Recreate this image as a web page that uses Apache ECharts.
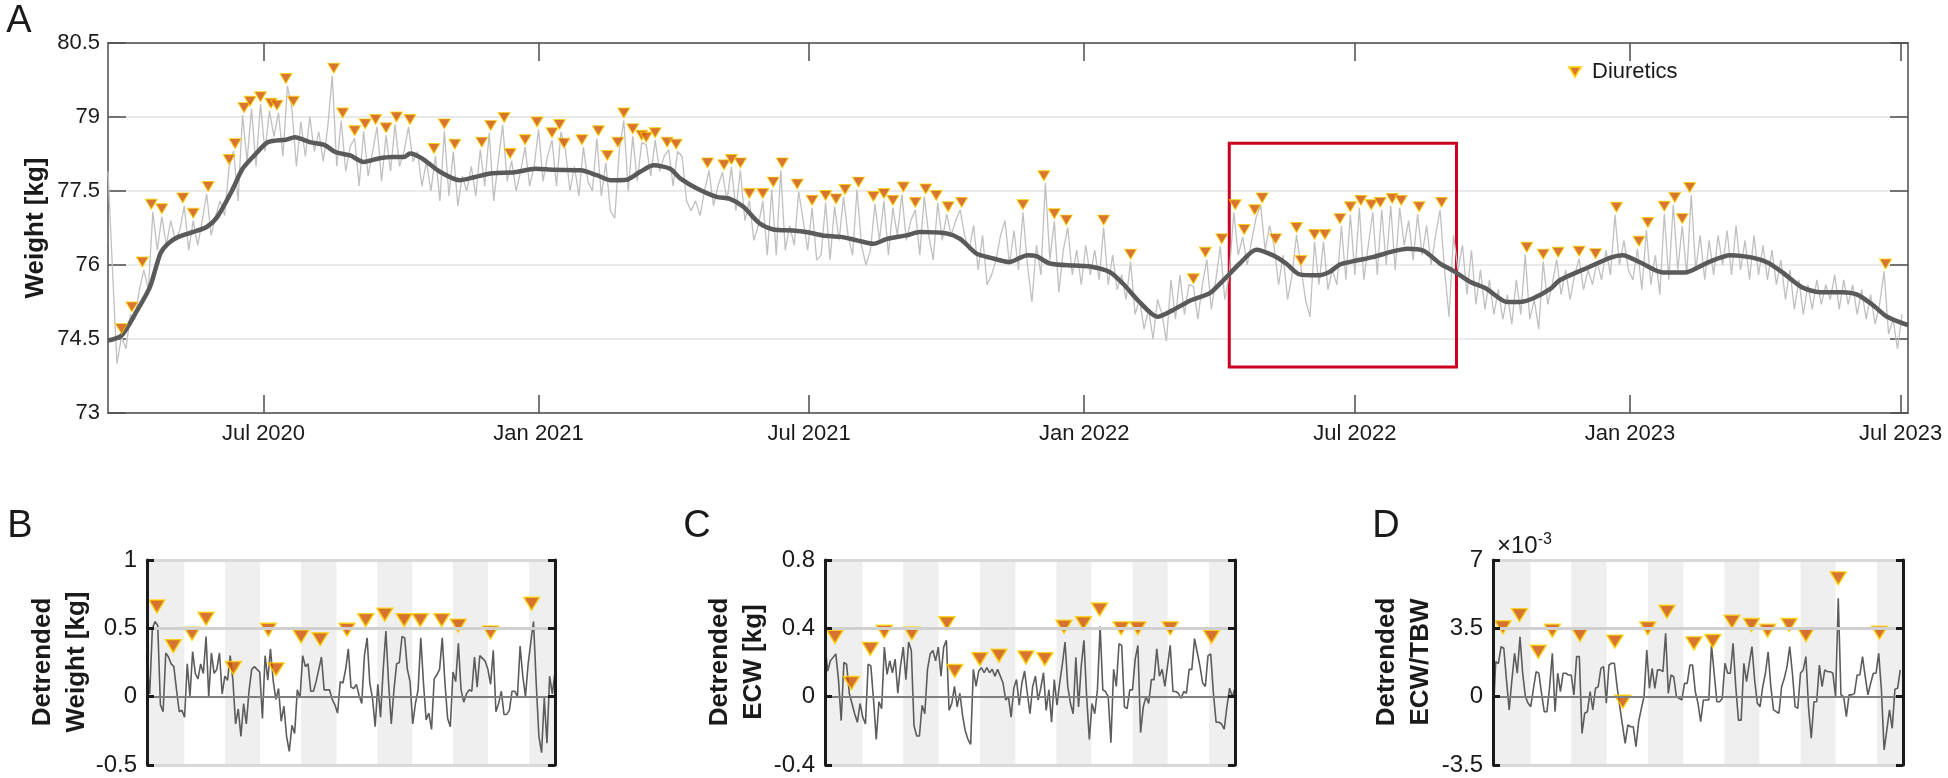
<!DOCTYPE html>
<html>
<head>
<meta charset="utf-8">
<script src="https://cdn.jsdelivr.net/npm/echarts@6.0.0/dist/echarts.min.js"></script>
<style>
html, body { margin: 0; padding: 0; background: #fff; }
#chart { width: 1948px; height: 778px; }
</style>
</head>
<body>
<div id="chart"></div>
<script>
var FONT = '"Liberation Sans", Arial, sans-serif';
var DAY = 86400000;

// panel A: daily weight, one reading every 3 days from the start date
var rawStart = '2020-03-19';
var rawStep = 3;
var rawKg = [
  77.9, 75.9, 74.0, 74.55, 74.3, 75.0, 74.9, 75.5, 75.9, 75.5,
  77.08, 76.3, 76.98, 76.4, 76.9, 76.5, 76.7, 77.2, 76.3, 76.9,
  76.4, 76.9, 77.44, 76.6, 77.0, 77.3, 77.0, 77.99, 78.31, 77.3,
  79.04, 78.1, 79.17, 78.0, 79.26, 78.3, 79.13, 78.6, 79.09, 78.2,
  79.63, 79.17, 78.0, 78.9, 78.2, 79.0, 78.3, 78.7, 78.1, 78.8,
  79.84, 78.0, 78.93, 77.9, 78.4, 78.57, 77.6, 78.71, 77.8, 78.3,
  78.8, 77.7, 78.63, 77.9, 78.85, 78.0, 78.3, 78.8, 78.1, 78.3,
  77.6, 78.1, 77.5, 78.21, 77.3, 78.71, 77.4, 78.3, 77.2, 77.8,
  77.5, 78.0, 77.4, 78.34, 77.6, 78.68, 77.3, 78.1, 78.84, 77.7,
  78.11, 77.5, 77.9, 78.39, 77.6, 78.0, 78.75, 77.7, 78.2, 78.53,
  77.6, 78.7, 78.32, 77.5, 78.0, 77.4, 78.39, 77.7, 77.5, 78.57,
  77.4, 78.07, 77.1, 76.95, 78.34, 78.93, 77.5, 78.61, 77.7, 78.48,
  78.44, 77.8, 78.53, 77.9, 78.2, 78.34, 77.6, 78.3, 78.2, 77.3,
  77.1, 77.3, 77.0, 77.5, 77.92, 77.2, 77.6, 77.88, 77.3, 77.99,
  77.1, 77.92, 76.9, 77.3, 76.5, 76.8, 77.3, 76.2, 77.53, 76.2,
  77.92, 76.3, 76.8, 76.4, 77.49, 76.9, 76.3, 77.16, 76.1, 76.2,
  77.26, 76.1, 77.19, 76.5, 77.38, 76.6, 76.2, 77.53, 76.4, 76.0,
  76.3, 77.24, 76.5, 77.3, 76.2, 77.16, 76.6, 77.43, 76.5, 76.9,
  77.12, 76.2, 77.39, 76.6, 76.1, 77.26, 76.5, 77.03, 76.6, 76.9,
  77.12, 76.6, 76.3, 76.8, 75.9, 76.6, 75.6, 75.8, 76.1, 76.6,
  76.9, 76.0, 76.7, 75.9, 77.07, 76.0, 75.25, 76.4, 75.8, 77.66,
  76.1, 76.89, 75.45, 76.3, 76.76, 75.8, 76.3, 75.6, 76.4, 75.8,
  76.3, 75.7, 76.76, 75.6, 76.2, 75.5, 75.8, 75.3, 76.07, 75.0,
  75.3, 74.7, 75.1, 74.5, 75.3, 75.0, 74.45, 75.7, 74.9, 75.8,
  75.0, 75.6, 75.57, 74.9, 75.6, 76.11, 75.1, 75.7, 76.38, 75.3,
  75.8, 77.07, 76.2, 76.57, 76.0, 76.5, 76.97, 77.21, 76.3, 76.8,
  76.38, 75.6, 76.2, 75.3, 75.8, 76.61, 75.94, 75.3, 74.95, 76.47,
  75.6, 76.47, 75.5, 75.9, 75.6, 76.79, 75.7, 77.03, 75.8, 77.16,
  75.7, 76.4, 77.07, 75.8, 77.12, 76.0, 77.2, 75.9, 77.16, 76.4,
  76.9, 76.1, 77.03, 76.2, 76.8, 76.0, 76.6, 77.12, 75.9, 74.95,
  76.6, 75.9, 76.4, 75.4, 76.3, 75.2, 75.9, 75.1, 75.7, 75.0,
  75.5, 74.9, 75.4, 74.8, 75.7, 75.0, 76.21, 74.9, 75.3, 74.7,
  76.07, 75.2, 75.6, 76.11, 75.4, 75.9, 75.3, 75.8, 76.13, 75.5,
  75.9, 75.6, 76.08, 75.7, 76.3, 75.8, 77.02, 76.0, 76.5, 75.9,
  75.7, 76.33, 75.5, 76.71, 75.6, 76.2, 75.4, 77.04, 75.7, 77.22,
  75.9, 76.79, 75.8, 77.42, 75.9, 76.6, 75.7, 76.5, 75.8, 76.6,
  76.0, 76.7, 75.8, 76.8, 75.9, 76.5, 75.7, 76.6, 75.8, 76.4,
  75.7, 76.3, 75.6, 76.1, 75.3, 75.9, 75.1, 75.7, 75.0, 75.6,
  75.1, 75.7, 75.2, 75.6, 75.3, 75.8, 75.1, 75.7, 75.2, 75.6,
  75.0, 75.5, 74.9, 75.4, 74.8, 75.2, 75.87, 74.6, 74.9, 74.3, 75.0
];

// smoothed trend, days after the start date
var trendDay = [0, 9, 18, 28, 35, 40, 47, 57, 66, 73, 83, 90, 100, 107, 119, 125, 135, 145, 152, 162,
  171, 181, 190, 198, 202, 210, 222, 235, 245, 257, 272, 286, 298, 316, 327, 336, 347, 356, 365, 376,
  383, 394, 407, 416, 425, 436, 445, 458, 467, 478, 490, 501, 512, 521, 534, 543, 561, 570, 581, 590,
  603, 615, 621, 630, 646, 657, 670, 679, 690, 702, 712, 724, 737, 746, 757, 768, 779, 788, 797, 809,
  817, 824, 835, 846, 860, 869, 880, 891, 900, 911, 922, 936, 944, 953, 965, 971, 990, 1005, 1013, 1025,
  1040, 1055, 1070, 1085, 1100, 1110, 1120, 1133, 1145, 1160, 1170, 1180, 1190, 1204];
var trendKg = [74.47, 74.57, 75.0, 75.55, 76.23, 76.43, 76.57, 76.67, 76.77, 76.97, 77.51, 77.95, 78.29, 78.49, 78.54, 78.59, 78.49, 78.43, 78.29, 78.22,
  78.09, 78.16, 78.19, 78.19, 78.26, 78.16, 77.89, 77.72, 77.78, 77.86, 77.88, 77.95, 77.93, 77.92, 77.82, 77.72, 77.73, 77.89, 78.02, 77.95,
  77.75, 77.55, 77.38, 77.34, 77.18, 76.84, 76.72, 76.70, 76.67, 76.60, 76.57, 76.50, 76.43, 76.53, 76.60, 76.67, 76.64, 76.53, 76.23, 76.15,
  76.06, 76.20, 76.18, 76.03, 75.99, 75.97, 75.86, 75.62, 75.25, 74.95, 75.08, 75.28, 75.43, 75.69, 76.03, 76.31, 76.20, 76.03, 75.81, 75.79,
  75.86, 76.01, 76.09, 76.16, 76.28, 76.33, 76.29, 76.03, 75.88, 75.66, 75.52, 75.25, 75.25, 75.32, 75.52, 75.69, 75.95, 76.15, 76.2, 76.05,
  75.85, 75.85, 76.05, 76.2, 76.15, 76.05, 75.85, 75.55, 75.45, 75.45, 75.4, 75.2, 74.95, 74.78];

// diuretic days (days after start) and marker heights
var diuDay = [9, 16, 23, 29, 36, 50, 57, 67, 81, 85, 91, 95, 102, 109, 113, 119, 124, 151, 157, 165,
  172, 179, 186, 193, 202, 218, 225, 232, 250, 256, 265, 269, 279, 287, 297, 302, 305, 317, 328, 334,
  341, 345, 351, 357, 360, 366, 374, 380, 401, 412, 417, 423, 429, 438, 445, 451, 461, 471, 480, 487,
  493, 502, 512, 519, 525, 532, 540, 547, 554, 562, 571, 612, 626, 633, 641, 666, 684, 726, 734, 745,
  754, 760, 767, 772, 781, 795, 798, 807, 814, 824, 831, 838, 845, 851, 859, 865, 877, 892, 949, 960,
  970, 984, 995, 1009, 1024, 1030, 1041, 1048, 1053, 1058, 1189];
var diuKg = [74.71, 75.15, 76.06, 77.23, 77.14, 77.36, 77.05, 77.59, 78.14, 78.46, 79.19, 79.32, 79.41, 79.28, 79.24, 79.78, 79.32, 79.99, 79.08, 78.72,
  78.86, 78.95, 78.78, 79.0, 78.95, 78.36, 78.86, 78.45, 78.49, 78.83, 78.99, 78.26, 78.54, 78.90, 78.68, 78.85, 78.47, 78.54, 78.72, 78.22,
  78.49, 79.08, 78.76, 78.63, 78.59, 78.68, 78.49, 78.45, 78.07, 78.03, 78.14, 78.07, 77.45, 77.45, 77.68, 78.07, 77.64, 77.31, 77.41, 77.34,
  77.53, 77.68, 77.39, 77.45, 77.31, 77.58, 77.27, 77.54, 77.41, 77.18, 77.27, 77.22, 77.81, 77.04, 76.91, 76.91, 76.22, 75.72, 76.26, 76.53,
  77.22, 76.72, 77.12, 77.36, 76.53, 76.76, 76.09, 76.62, 76.62, 76.94, 77.18, 77.31, 77.22, 77.27, 77.35, 77.31, 77.18, 77.27, 76.36, 76.22,
  76.26, 76.28, 76.23, 77.17, 76.48, 76.86, 77.19, 77.37, 76.94, 77.57, 76.02];

var axisEndDay = 1204;
var tickDates = ['2020-07-01', '2021-01-01', '2021-07-01', '2022-01-01', '2022-07-01', '2023-01-01', '2023-07-01'];
var tickLabels = ['Jul 2020', 'Jan 2021', 'Jul 2021', 'Jan 2022', 'Jul 2022', 'Jan 2023', 'Jul 2023'];
var weightTicks = [73, 74.5, 76, 77.5, 79, 80.5];

// zoomed window (red box)
var boxDates = ['2022-04-08', '2022-09-07'];
var boxKg = [73.93, 78.47];

// panels B-D: detrended daily values across the window
var bDetr = [0.24, 0.02, 0.5, 0.55, 0.52, -0.06, -0.11, 0.32, 0.29, 0.24,
  0.22, 0.05, -0.11, -0.1, -0.15, 0.24, 0.0, 0.33, 0.17, 0.13,
  0.24, 0.17, 0.44, 0.0, 0.32, 0.17, 0.2, 0.32, 0.02, 0.15,
  0.12, 0.3, 0.12, -0.2, -0.09, -0.29, -0.05, -0.2, 0.04, 0.2,
  0.22, 0.2, 0.18, -0.16, 0.3, 0.12, 0.35, 0.12, -0.02, 0.06,
  -0.18, -0.07, -0.29, -0.4, -0.21, -0.27, 0.05, -0.01, 0.3, 0.22,
  0.24, 0.04, 0.04, 0.11, 0.2, 0.29, 0.05, 0.05, 0.05, -0.02,
  -0.06, -0.12, 0.11, 0.1, 0.2, 0.35, 0.07, 0.06, 0.09, 0.01,
  -0.05, 0.3, 0.43, 0.1, -0.01, -0.22, 0.09, -0.15, 0.2, 0.48,
  0.1, -0.2, 0.05, 0.24, 0.25, 0.44, 0.43, 0.2, 0.11, -0.2,
  -0.05, 0.05, 0.43, 0.1, -0.17, -0.12, -0.24, 0.13, 0.16, 0.2,
  0.43, 0.1, -0.16, -0.22, 0.18, 0.11, 0.39, 0.05, -0.04, 0.02,
  0.05, 0.04, 0.29, 0.07, 0.3, 0.28, 0.26, 0.2, 0.09, 0.34,
  -0.11, -0.05, 0.04, -0.13, -0.13, -0.1, 0.04, 0.04, 0.0, 0.37,
  0.15, 0.0, 0.24, 0.4, 0.55, 0.1, -0.29, -0.41, -0.01, -0.34,
  0.15, 0.02, 0.18];
var cDetr = [0.30, 0.15, 0.21, 0.23, 0.25, 0.10, -0.14, 0.20, 0.19, 0.02,
  -0.04, -0.1, -0.15, -0.04, -0.12, -0.16, 0.19, 0.18, -0.02, -0.25,
  -0.03, -0.07, 0.29, 0.13, 0.21, 0.14, 0.22, 0.02, 0.18, 0.29,
  0.1, 0.32, 0.27, -0.17, -0.23, -0.23, -0.05, -0.1, 0.16, 0.25,
  0.27, 0.21, 0.29, 0.12, 0.29, 0.33, -0.08, -0.04, 0.06, -0.06,
  0.02, -0.11, -0.2, -0.25, -0.28, 0.16, 0.06, 0.15, 0.17, 0.14,
  0.17, 0.14, 0.16, 0.12, 0.16, 0.12, 0.08, -0.02, 0.0, -0.12,
  0.05, 0.1, -0.05, 0.08, 0.15, 0.02, -0.1, 0.06, 0.12, -0.02,
  0.05, 0.14, -0.08, 0.04, -0.15, 0.1, -0.05, 0.08, 0.19, 0.32,
  0.06, -0.04, -0.1, 0.23, -0.06, 0.18, 0.33, 0.0, -0.25, -0.04,
  -0.1, 0.04, 0.41, 0.04, 0.03, 0.0, -0.27, 0.16, 0.06, 0.31,
  0.3, -0.06, -0.07, 0.04, 0.04, 0.22, 0.3, -0.21, -0.06, 0.0,
  -0.04, 0.1, 0.1, 0.28, 0.12, 0.16, 0.06, 0.18, 0.3, 0.03,
  0.03, 0.02, -0.01, 0.03, 0.02, 0.16, 0.16, 0.34, 0.26, 0.18,
  0.08, 0.06, 0.24, 0.25, 0.02, -0.15, -0.15, -0.16, -0.19, -0.06,
  0.05, 0.0, 0.05];
// ECW/TBW in units of 1e-3
var dDetr = [-1.2, 1.79, 1.7, 2.56, 2.48, 0.85, -0.68, 0.85, 2.22, 1.2,
  3.07, 1.2, 0, -0.34, -0.51, 0.43, 1.28, 1.2, 0.17, -0.77,
  -0.77, 0.51, 2.22, -0.77, 1.2, 0.26, 1.2, 1.2, 1.11, 1.11,
  0.09, 2.05, 2.05, -1.88, -0.85, -0.77, 0.26, -0.68, 0.43, 0.51,
  1.45, 1.54, -0.34, 1.62, 1.71, 1.71, 0.51, -0.51, -1.45, -2.39,
  -1.45, -1.54, -1.54, -2.56, -1.28, -0.6, 0, 2.39, 0.43, 1.45,
  0.43, 1.37, 1.37, 1.28, 3.24, 0.17, 1.11, 1.02, 0, -0.09,
  -0.17, 0.68, 0.68, 1.62, 1.62, 0.26, -0.34, -1.28, -0.17, -0.17,
  -0.17, 2.65, 1.2, -0.26, -0.26, -0.09, 1.71, 1.2, 1.2, 2.73,
  0.51, -1.2, -1.2, 1.71, 0.77, 1.71, 2.56, 0.85, -0.34, -0.51,
  0.51, 1.2, 2.3, 0.51, -0.68, -0.77, -0.85, 0.51, 0.94, 1.54,
  2.56, 1.2, -0.51, -0.6, 1.2, 1.37, 2.05, -0.6, -2.13, -0.26,
  -0.26, 1.62, 0.51, 1.37, 1.28, 1.28, 1.2, 0, 5.04, 0.09,
  0, -1.02, 0.09, 0.09, 0.17, 1.11, 1.11, 2.05, 1.02, 0.09,
  0.68, 1.2, 1.2, 2.22, 0.34, -2.73, -1.71, -0.68, -1.62, 0.38,
  0.43, 1.37];

var detrDiuDay = [3.7, 9.8, 16.8, 22, 32.2, 45.2, 48.1, 57.4, 64.5, 74.5, 81.5, 88.6, 95.8, 101.8, 109.8, 116, 128, 143.3];
var bDiu = [0.66, 0.37, 0.46, 0.57, 0.21, 0.49, 0.2, 0.44, 0.42, 0.49, 0.56, 0.6, 0.56, 0.56, 0.56, 0.52, 0.47, 0.68];
var cDiu = [0.35, 0.08, 0.28, 0.38, 0.37, 0.43, 0.15, 0.22, 0.24, 0.23, 0.22, 0.41, 0.43, 0.51, 0.4, 0.4, 0.4, 0.35];
var dDiu = [3.55, 4.18, 2.3, 3.38, 3.16, 2.82, -0.26, 3.5, 4.35, 2.73, 2.85, 3.84, 3.67, 3.38, 3.67, 3.16, 6.06, 3.28];

// shaded two-week blocks in B-D (days into window)
var bandStart = [0, 29, 57.4, 85.8, 114, 142.4];
var bandEnd = [13.9, 42.1, 70.6, 98.8, 127, 152];
var windowDays = 152;

var startMs = Date.parse(rawStart);
function dayMs(d) { return startMs + d * DAY; }
var tickMs = tickDates.map(function (s) { return Date.parse(s); });

var triColor = '#cf5200';
var triEdge = '#ffd400';
var axisDark = '#4d4d4d';
var textDark = '#1a1a1a';

var chart = echarts.init(document.getElementById('chart'));

var bandAreas = bandStart.map(function (s, i) { return [{ xAxis: s }, { xAxis: bandEnd[i] }]; });

function smallPanel(idx, values, diu, range, step, midLine) {
  return {
    xAxes: [
      { gridIndex: idx, type: 'value', min: 0, max: windowDays, position: 'bottom', z: 4,
        axisLine: { show: true, onZero: false, lineStyle: { color: '#d9d9d9', width: 3 } },
        axisTick: { show: false }, axisLabel: { show: false }, splitLine: { show: false } },
      { gridIndex: idx, type: 'value', min: 0, max: windowDays, position: 'top', z: 4,
        axisLine: { show: true, onZero: false, lineStyle: { color: '#d9d9d9', width: 3 } },
        axisTick: { show: false }, axisLabel: { show: false }, splitLine: { show: false } }
    ],
    yAxes: [
      { gridIndex: idx, type: 'value', min: range[0], max: range[1], interval: step, position: 'left', z: 5,
        axisLine: { show: true, onZero: false, lineStyle: { color: '#1a1a1a', width: 3 } },
        axisTick: { show: true, inside: true, length: 7, lineStyle: { color: '#1a1a1a', width: 3 } },
        axisLabel: { fontSize: 24, color: textDark, fontFamily: FONT, margin: 10 },
        splitLine: { show: false } },
      { gridIndex: idx, type: 'value', min: range[0], max: range[1], interval: step, position: 'right', z: 5,
        axisLine: { show: true, onZero: false, lineStyle: { color: '#1a1a1a', width: 3 } },
        axisTick: { show: true, inside: true, length: 7, lineStyle: { color: '#1a1a1a', width: 3 } },
        axisLabel: { show: false }, splitLine: { show: false } }
    ],
    values: values, diu: diu, midLine: midLine
  };
}

var panels = [
  smallPanel(1, bDetr, bDiu, [-0.5, 1], 0.5, 0.5),
  smallPanel(2, cDetr, cDiu, [-0.4, 0.8], 0.4, 0.4),
  smallPanel(3, dDetr, dDiu, [-3.5, 7], 3.5, 3.5)
];

var xAxes = [
  { gridIndex: 0, type: 'value', min: dayMs(0), max: dayMs(axisEndDay), position: 'bottom',
    axisLine: { show: true, onZero: false, lineStyle: { color: axisDark, width: 1.5 } },
    axisTick: { show: true, inside: true, length: 18, customValues: tickMs, lineStyle: { color: axisDark, width: 1.5 } },
    axisLabel: { customValues: tickMs, fontSize: 22, color: textDark, fontFamily: FONT, margin: 10,
      formatter: function (v) { var i = tickMs.indexOf(v); return i >= 0 ? tickLabels[i] : ''; } },
    splitLine: { show: false } },
  { gridIndex: 0, type: 'value', min: dayMs(0), max: dayMs(axisEndDay), position: 'top',
    axisLine: { show: true, onZero: false, lineStyle: { color: axisDark, width: 1.5 } },
    axisTick: { show: true, inside: true, length: 18, customValues: tickMs, lineStyle: { color: axisDark, width: 1.5 } },
    axisLabel: { show: false }, splitLine: { show: false } }
];
var yAxes = [
  { gridIndex: 0, type: 'value', min: 73, max: 80.5, position: 'left',
    axisLine: { show: true, onZero: false, lineStyle: { color: axisDark, width: 1.5 } },
    axisTick: { show: true, inside: true, length: 18, customValues: weightTicks, lineStyle: { color: axisDark, width: 1.5 } },
    axisLabel: { customValues: weightTicks, fontSize: 22, color: textDark, fontFamily: FONT, margin: 8 },
    splitLine: { show: true, lineStyle: { color: '#e3e3e3', width: 1.5 } } },
  { gridIndex: 0, type: 'value', min: 73, max: 80.5, position: 'right',
    axisLine: { show: true, onZero: false, lineStyle: { color: axisDark, width: 1.5 } },
    axisTick: { show: true, inside: true, length: 18, customValues: weightTicks, lineStyle: { color: axisDark, width: 1.5 } },
    axisLabel: { show: false }, splitLine: { show: false } }
];

var series = [
  { name: 'raw', type: 'line', xAxisIndex: 0, yAxisIndex: 0, showSymbol: false, silent: true, z: 2,
    data: rawKg.map(function (v, i) { return [dayMs(i * rawStep), v]; }),
    lineStyle: { color: '#c0c0c0', width: 1.3 } },
  { name: 'trend', type: 'line', xAxisIndex: 0, yAxisIndex: 0, showSymbol: false, silent: true, smooth: 0.25, z: 3,
    data: trendDay.map(function (d, i) { return [dayMs(d), trendKg[i]]; }),
    lineStyle: { color: '#5a5a5a', width: 4.5 } },
  { name: 'Diuretics', type: 'scatter', xAxisIndex: 0, yAxisIndex: 0, z: 4,
    symbol: 'triangle', symbolRotate: 180, symbolSize: [12, 10],
    data: diuDay.map(function (d, i) { return [dayMs(d), diuKg[i]]; }),
    itemStyle: { color: triColor, borderColor: triEdge, borderWidth: 1 } },
  { name: 'box', type: 'line', xAxisIndex: 0, yAxisIndex: 0, data: [], silent: true, z: 6,
    markArea: { silent: true,
      itemStyle: { color: 'rgba(0,0,0,0)', borderColor: '#cc0020', borderWidth: 3 },
      data: [[{ xAxis: Date.parse(boxDates[0]), yAxis: boxKg[0] }, { xAxis: Date.parse(boxDates[1]), yAxis: boxKg[1] }]] } }
];

panels.forEach(function (p, k) {
  var xi = 2 + k * 2, yi = 2 + k * 2;
  p.xAxes.forEach(function (a) { xAxes.push(a); });
  p.yAxes.forEach(function (a) { yAxes.push(a); });
  series.push({
    type: 'line', xAxisIndex: xi, yAxisIndex: yi, data: [], silent: true, z: 1,
    markArea: { silent: true, itemStyle: { color: '#efefef' }, data: bandAreas },
    markLine: { silent: true, symbol: ['none', 'none'], label: { show: false },
      data: [
        { yAxis: p.midLine, lineStyle: { color: '#d0d0d0', width: 3, type: 'solid' } },
        { yAxis: 0, lineStyle: { color: '#7f7f7f', width: 2, type: 'solid' } }
      ] }
  });
  series.push({
    type: 'line', xAxisIndex: xi, yAxisIndex: yi, showSymbol: false, silent: true, z: 2,
    data: p.values.map(function (v, i) { return [i, v]; }),
    lineStyle: { color: '#5c5c5c', width: 1.6 }
  });
  series.push({
    type: 'scatter', xAxisIndex: xi, yAxisIndex: yi, z: 3,
    symbol: 'triangle', symbolRotate: 180, symbolSize: [16, 13],
    data: detrDiuDay.map(function (d, i) { return [d, p.diu[i]]; }),
    itemStyle: { color: triColor, borderColor: triEdge, borderWidth: 1.5 }
  });
});

function label(text, x, y, size, bold, rot) {
  return { type: 'text', x: x, y: y, rotation: rot || 0, silent: true,
    style: { text: text, fill: textDark, fontSize: size, fontWeight: bold ? 'bold' : 'normal', fontFamily: FONT,
      lineHeight: Math.round(size * 1.3), textAlign: 'center', textVerticalAlign: 'middle', align: 'center', verticalAlign: 'middle' } };
}

var option = {
  animation: false,
  backgroundColor: '#ffffff',
  grid: [
    { left: 108, top: 43, width: 1800, height: 370 },
    { left: 147, top: 560, width: 408, height: 205 },
    { left: 825, top: 560, width: 410, height: 205 },
    { left: 1493, top: 560, width: 410, height: 205 }
  ],
  legend: {
    data: [{ name: 'Diuretics', icon: 'path://M0,0L12,0L6,10Z' }],
    left: 1563, top: 56, itemWidth: 12, itemHeight: 10, itemGap: 10,
    textStyle: { fontSize: 22, color: textDark, fontFamily: FONT, padding: [0, 0, 0, 6] }
  },
  xAxis: xAxes,
  yAxis: yAxes,
  series: series,
  graphic: [
    label('A', 19, 22, 38, false),
    label('B', 20, 527, 38, false),
    label('C', 697, 527, 38, false),
    label('D', 1386, 527, 38, false),
    label('Weight [kg]', 36, 228, 26, true, Math.PI / 2),
    label('Detrended\nWeight [kg]', 60, 662, 26, true, Math.PI / 2),
    label('Detrended\nECW [kg]', 737, 662, 26, true, Math.PI / 2),
    label('Detrended\nECW/TBW', 1404, 662, 26, true, Math.PI / 2),
    { type: 'text', x: 1497, y: 545, silent: true,
      style: { text: '{a|\u00d710}{b|-3}', fontFamily: FONT, fill: textDark, verticalAlign: 'middle', textVerticalAlign: 'middle',
        rich: { a: { fontSize: 24, fontFamily: FONT, fill: textDark, color: textDark, verticalAlign: 'bottom', lineHeight: 26 },
                b: { fontSize: 16, fontFamily: FONT, fill: textDark, color: textDark, verticalAlign: 'top', lineHeight: 26 } } } }
  ]
};

chart.setOption(option);
</script>
</body>
</html>
